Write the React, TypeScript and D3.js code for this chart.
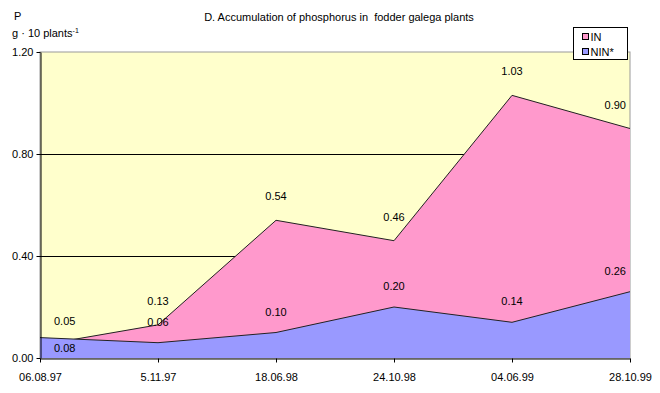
import { useEffect, useRef } from "react";
import * as d3 from "d3";

const dates = ["06.08.97", "5.11.97", "18.06.98", "24.10.98", "04.06.99", "28.10.99"];
const inValues = [0.05, 0.13, 0.54, 0.46, 1.03, 0.9];
const ninValues = [0.08, 0.06, 0.1, 0.2, 0.14, 0.26];
const yTicks = [0, 0.4, 0.8, 1.2];

const FONT = "'Liberation Sans', Arial, sans-serif";

const App: React.FC = () => {
  const svgRef = useRef<SVGSVGElement>(null);

  useEffect(() => {
    const svg = d3.select(svgRef.current);
    svg.selectAll("*").remove();

    const width = 660;
    const height = 393;
    const margin = { top: 52, right: 30, bottom: 35, left: 40 };

    const x = d3.scalePoint<string>().domain(dates).range([margin.left, width - margin.right]);
    const y = d3.scaleLinear().domain([0, 1.2]).range([height - margin.bottom, margin.top]);

    svg.append("rect").attr("width", width).attr("height", height).attr("fill", "#fff");

    // plot background
    svg.append("rect")
      .attr("x", margin.left).attr("y", margin.top)
      .attr("width", width - margin.left - margin.right)
      .attr("height", height - margin.top - margin.bottom)
      .attr("fill", "#ffffcc").attr("stroke", "#999").attr("stroke-width", 1);

    // gridlines
    svg.append("g").selectAll("line").data(yTicks.slice(1, -1)).join("line")
      .attr("x1", margin.left).attr("x2", width - margin.right)
      .attr("y1", (d) => Math.round(y(d)) + 0.5).attr("y2", (d) => Math.round(y(d)) + 0.5)
      .attr("stroke", "#000").attr("stroke-width", 1);

    const area = d3.area<number>()
      .x((_, i) => x(dates[i]) as number)
      .y0(y(0))
      .y1((d) => y(d));
    const line = d3.line<number>()
      .x((_, i) => x(dates[i]) as number)
      .y((d) => y(d));

    svg.append("path").datum(inValues).attr("fill", "#ff99cc").attr("d", area);
    svg.append("path").datum(inValues).attr("fill", "none").attr("stroke", "#222").attr("stroke-width", 1).attr("d", line);
    svg.append("path").datum(ninValues).attr("fill", "#9999ff").attr("d", area);
    svg.append("path").datum(ninValues).attr("fill", "none").attr("stroke", "#222").attr("stroke-width", 1).attr("d", line);

    // axes
    const yAxis = svg.append("g").attr("transform", `translate(${margin.left + 0.5},0)`)
      .call(d3.axisLeft(y).tickValues(yTicks).tickFormat(d3.format(".2f")).tickSize(4).tickSizeOuter(0));
    const xAxis = svg.append("g").attr("transform", `translate(0,${height - margin.bottom + 0.5})`)
      .call(d3.axisBottom(x).tickSize(4).tickSizeOuter(0));
    [yAxis, xAxis].forEach((g) => {
      g.selectAll("path").attr("stroke", "#000");
      g.selectAll("line").attr("stroke", "#000");
      g.selectAll("text").attr("font-family", FONT).attr("font-size", 11).attr("fill", "#000");
    });
    yAxis.selectAll("text").attr("x", -7);
    xAxis.selectAll("text").attr("y", 15);

    // data labels
    const anchorFor = (i: number) => (i === 0 ? "start" : i === dates.length - 1 ? "end" : "middle");
    const dxFor = (i: number) => (i === 0 ? 14 : i === dates.length - 1 ? -4 : 0);
    const labels = svg.append("g").attr("font-family", FONT).attr("font-size", 11).attr("fill", "#000");
    labels.selectAll("text.in").data(inValues).join("text")
      .attr("class", "in")
      .attr("x", (_, i) => (x(dates[i]) as number) + dxFor(i))
      .attr("y", (d) => y(d) - 20)
      .attr("text-anchor", (_, i) => anchorFor(i))
      .text((d) => d3.format(".2f")(d));
    labels.selectAll("text.nin").data(ninValues).join("text")
      .attr("class", "nin")
      .attr("x", (_, i) => (x(dates[i]) as number) + dxFor(i))
      .attr("y", (d, i) => (d > inValues[i] ? y(d) + 14 : y(d) - 17))
      .attr("text-anchor", (_, i) => anchorFor(i))
      .text((d) => d3.format(".2f")(d));

    // titles
    svg.append("text").attr("x", 339).attr("y", 21).attr("text-anchor", "middle")
      .attr("font-family", FONT).attr("font-size", 11)
      .text("D. Accumulation of phosphorus in\u00a0 fodder galega plants");
    svg.append("text").attr("x", 14).attr("y", 20).attr("font-family", FONT).attr("font-size", 11).text("P");
    const unit = svg.append("text").attr("x", 12).attr("y", 37).attr("font-family", FONT).attr("font-size", 11);
    unit.append("tspan").text("g \u00b7 10 plants");
    unit.append("tspan").attr("font-size", 7).attr("dy", -4).text("-1");

    // legend
    const legend = svg.append("g").attr("transform", "translate(573.5,27.5)");
    legend.append("rect").attr("width", 54).attr("height", 32).attr("fill", "#fff").attr("stroke", "#000");
    const items = [
      { name: "IN", color: "#ff99cc" },
      { name: "NIN*", color: "#9999ff" },
    ];
    items.forEach((it, i) => {
      legend.append("rect").attr("x", 9).attr("y", 6 + i * 15).attr("width", 6).attr("height", 6)
        .attr("fill", it.color).attr("stroke", "#000").attr("stroke-width", 1);
      legend.append("text").attr("x", 17).attr("y", 13 + i * 15)
        .attr("font-family", FONT).attr("font-size", 11).text(it.name);
    });
  }, []);

  return (
    <div style={{ position: "absolute", left: 0, top: 0 }}>
      <svg ref={svgRef} width={660} height={393} style={{ display: "block" }}></svg>
    </div>
  );
};

export default App;
